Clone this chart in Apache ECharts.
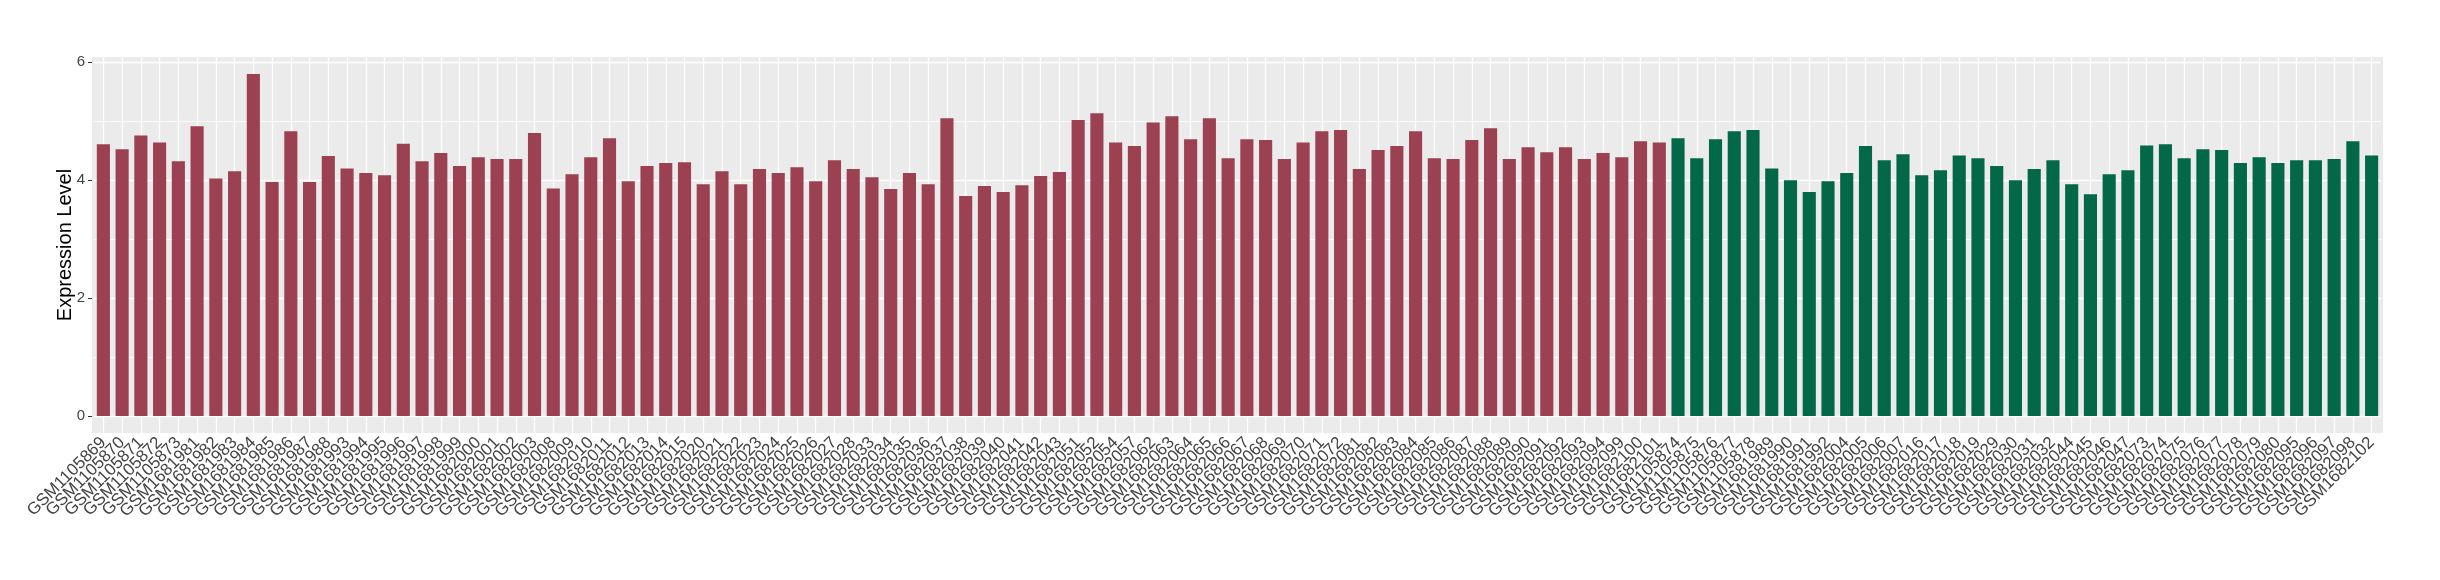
<!DOCTYPE html>
<html>
<head>
<meta charset="utf-8">
<script src="https://cdn.jsdelivr.net/npm/echarts@6/dist/echarts.min.js"></script>
<style>html,body{margin:0;padding:0;background:#fff}#c{width:2440px;height:580px}</style>
</head>
<body>
<div id="c"></div>
<script>
const groupALabels = [
'GSM1105869','GSM1105870','GSM1105871','GSM1105872','GSM1105873',
'GSM1681981','GSM1681982','GSM1681983','GSM1681984','GSM1681985','GSM1681986','GSM1681987','GSM1681988',
'GSM1681993','GSM1681994','GSM1681995','GSM1681996','GSM1681997','GSM1681998','GSM1681999',
'GSM1682000','GSM1682001','GSM1682002','GSM1682003',
'GSM1682008','GSM1682009','GSM1682010','GSM1682011','GSM1682012','GSM1682013','GSM1682014','GSM1682015',
'GSM1682020','GSM1682021','GSM1682022','GSM1682023','GSM1682024','GSM1682025','GSM1682026','GSM1682027','GSM1682028',
'GSM1682033','GSM1682034','GSM1682035','GSM1682036','GSM1682037','GSM1682038','GSM1682039','GSM1682040','GSM1682041','GSM1682042','GSM1682043',
'GSM1682051','GSM1682052','GSM1682054','GSM1682057',
'GSM1682062','GSM1682063','GSM1682064','GSM1682065','GSM1682066','GSM1682067','GSM1682068','GSM1682069','GSM1682070','GSM1682071','GSM1682072',
'GSM1682081','GSM1682082','GSM1682083','GSM1682084','GSM1682085','GSM1682086','GSM1682087','GSM1682088','GSM1682089','GSM1682090','GSM1682091','GSM1682092','GSM1682093','GSM1682094',
'GSM1682099','GSM1682100','GSM1682101'
];
const groupAValues = [
4.61, 4.525, 4.76, 4.64, 4.32, 4.915, 4.03, 4.15, 5.80, 3.97,
4.83, 3.97, 4.41, 4.20, 4.12, 4.085, 4.62, 4.32, 4.46, 4.24,
4.39, 4.36, 4.36, 4.80, 3.86, 4.10, 4.39, 4.71, 3.98, 4.24,
4.29, 4.305, 3.93, 4.15, 3.93, 4.19, 4.12, 4.22, 3.98, 4.34,
4.19, 4.05, 3.85, 4.12, 3.93, 5.05, 3.73, 3.90, 3.80, 3.915,
4.07, 4.14, 5.02, 5.135, 4.64, 4.58, 4.98, 5.085, 4.695, 5.05,
4.37, 4.695, 4.68, 4.36, 4.64, 4.83, 4.85, 4.19, 4.51, 4.58,
4.83, 4.37, 4.36, 4.68, 4.88, 4.36, 4.56, 4.475, 4.56, 4.36,
4.46, 4.39, 4.66, 4.64
];
const groupBLabels = [
'GSM1105874','GSM1105875','GSM1105876','GSM1105877','GSM1105878',
'GSM1681989','GSM1681990','GSM1681991','GSM1681992',
'GSM1682004','GSM1682005','GSM1682006','GSM1682007',
'GSM1682016','GSM1682017','GSM1682018','GSM1682019',
'GSM1682029','GSM1682030','GSM1682031','GSM1682032',
'GSM1682044','GSM1682045','GSM1682046','GSM1682047',
'GSM1682073','GSM1682074','GSM1682075','GSM1682076','GSM1682077','GSM1682078','GSM1682079','GSM1682080',
'GSM1682095','GSM1682096','GSM1682097','GSM1682098',
'GSM1682102'
];
const groupBValues = [
4.71, 4.37, 4.695, 4.83, 4.85, 4.20, 4.00, 3.80, 3.98, 4.12,
4.58, 4.34, 4.44, 4.085, 4.17, 4.42, 4.37, 4.24, 4.00, 4.19,
4.34, 3.93, 3.76, 4.10, 4.17, 4.59, 4.61, 4.37, 4.525, 4.51,
4.29, 4.39, 4.29, 4.34, 4.34, 4.36, 4.66, 4.42
];
const yTickValues = [0, 2, 4, 6];
const yMinorValues = [1, 3, 5];
const yTitle = 'Expression Level';

const colorA = '#9B4151';
const colorB = '#036847';

const categories = groupALabels.concat(groupBLabels);
const barData = groupAValues.map(v => ({value: v, itemStyle: {color: colorA}}))
  .concat(groupBValues.map(v => ({value: v, itemStyle: {color: colorB}})));

const gridLines = []
  .concat(yTickValues.map(v => ({yAxis: v, lineStyle: {width: 1.3}})))
  .concat(yMinorValues.map(v => ({yAxis: v, lineStyle: {width: 0.8}})))
  .concat(categories.map(c => ({xAxis: c, lineStyle: {width: 1.3}})));

const chart = echarts.init(document.getElementById('c'), null, {renderer: 'canvas'});
const FONT = 'Liberation Sans, Arial, Helvetica, sans-serif';
chart.setOption({
  animation: false,
  backgroundColor: '#ffffff',
  graphic: [{
    type: 'rect', z: -10, silent: true,
    shape: {x: 92, y: 57, width: 2291, height: 376},
    style: {fill: '#EBEBEB'}
  }],
  grid: {left: 94, right: 59, top: 57, bottom: 147, containLabel: false},
  xAxis: {
    type: 'category',
    data: categories,
    boundaryGap: true,
    axisLine: {show: false},
    axisTick: {show: true, alignWithLabel: true, interval: 0, length: 4, lineStyle: {color: '#333333', width: 1}},
    axisLabel: {interval: 0, rotate: 45, margin: 7, color: '#444444', fontSize: 17, fontFamily: FONT},
    splitLine: {show: false}
  },
  yAxis: {
    type: 'value',
    min: -0.29, max: 6.09,
    offset: 2,
    name: yTitle,
    nameLocation: 'middle',
    nameGap: 17,
    nameMoveOverlap: false,
    nameRotate: 90,
    nameTextStyle: {color: '#000000', fontSize: 20, fontFamily: FONT},
    axisLine: {show: false},
    axisTick: {show: true, length: 4, customValues: yTickValues, lineStyle: {color: '#333333', width: 1}},
    axisLabel: {customValues: yTickValues, margin: 7, color: '#444444', fontSize: 15, fontFamily: FONT},
    splitLine: {show: false}
  },
  series: [{
    type: 'bar',
    data: barData,
    barWidth: '70%',
    z: 2,
    markLine: {
      silent: true,
      z: 1,
      symbol: ['none', 'none'],
      label: {show: false},
      emphasis: {disabled: true},
      lineStyle: {color: '#FFFFFF', type: 'solid'},
      data: gridLines
    }
  }]
});
</script>
</body>
</html>
